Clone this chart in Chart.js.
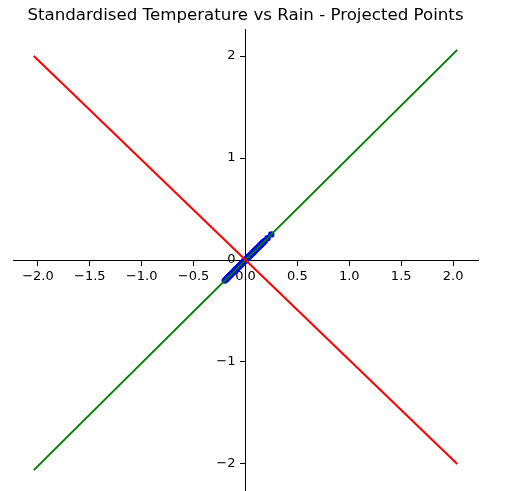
<!DOCTYPE html>
<html>
<head>
<meta charset="utf-8">
<script src="https://cdn.jsdelivr.net/npm/chart.js@4/dist/chart.umd.min.js"></script>
<style>
  html, body { margin: 0; padding: 0; background: #fff; }
  #wrap { width: 506px; height: 491px; }
</style>
</head>
<body>
<div id="wrap"><canvas id="chart"></canvas></div>
<script>
// projected points (standardised temperature, rain)
const projX = [-0.200, -0.188, -0.180, -0.172, -0.165, -0.158, -0.150, -0.143, -0.137, -0.130,
               -0.122, -0.115, -0.108, -0.100, -0.094, -0.087, -0.080, -0.072, -0.065, -0.058,
               -0.050, -0.043, -0.036, -0.029, -0.021, -0.014, -0.007, 0.000, 0.008, 0.015,
               0.022, 0.030, 0.037, 0.044, 0.052, 0.059, 0.066, 0.074, 0.081, 0.089,
               0.096, 0.104, 0.111, 0.118, 0.126, 0.133, 0.141, 0.148, 0.156, 0.163,
               0.171, 0.178, 0.186, 0.212, 0.248];
const projY = [-0.202, -0.190, -0.182, -0.174, -0.167, -0.160, -0.152, -0.144, -0.138, -0.131,
               -0.123, -0.116, -0.109, -0.101, -0.095, -0.088, -0.081, -0.073, -0.066, -0.059,
               -0.051, -0.043, -0.036, -0.029, -0.021, -0.014, -0.007, 0.000, 0.008, 0.015,
               0.022, 0.030, 0.037, 0.044, 0.053, 0.060, 0.067, 0.075, 0.082, 0.090,
               0.097, 0.105, 0.112, 0.119, 0.127, 0.134, 0.142, 0.150, 0.158, 0.165,
               0.173, 0.180, 0.188, 0.214, 0.251];

// principal direction lines (end points)
const greenX = [-2.04, 2.04];
const greenY = [-2.06, 2.06];
const redX = [-2.04, 2.04];
const redY = [2.00, -2.00];

const xTicks = [-2.0, -1.5, -1.0, -0.5, 0.0, 0.5, 1.0, 1.5, 2.0];
const yTicks = [-2, -1, 0, 1, 2];

function pairs(xs, ys) {
    return xs.map((x, i) => ({ x: x, y: ys[i] }));
}

function minus(s) {
    return s.replace('-', '\u2212');
}

// centred axes should not push the plot area in
function noPadding(scale) {
    scale.paddingTop = 0;
    scale.paddingBottom = 0;
    scale.paddingLeft = 0;
    scale.paddingRight = 0;
}

const font = { family: 'DejaVu Sans', size: 13 };

new Chart(document.getElementById('chart'), {
    type: 'scatter',
    data: {
        datasets: [
            {
                label: 'red',
                data: pairs(redX, redY),
                showLine: true,
                borderColor: '#ff0000',
                borderWidth: 2,
                pointRadius: 0,
                order: 0
            },
            {
                label: 'green',
                data: pairs(greenX, greenY),
                showLine: true,
                borderColor: '#008000',
                borderWidth: 2,
                pointRadius: 0,
                order: 1
            },
            {
                label: 'points',
                data: pairs(projX, projY),
                backgroundColor: '#0000ff',
                borderColor: '#0000ff',
                borderWidth: 0,
                pointRadius: 3.2,
                order: 2
            }
        ]
    },
    options: {
        responsive: true,
        maintainAspectRatio: false,
        animation: false,
        layout: { autoPadding: false, padding: { left: 13, right: 28, top: 0, bottom: 0.5 } },
        plugins: {
            legend: { display: false },
            tooltip: { enabled: false },
            title: {
                display: true,
                text: 'Standardised Temperature vs Rain - Projected Points',
                color: '#000',
                font: { family: 'DejaVu Sans', size: 16.67, weight: 'normal' },
                padding: { top: 5.5, bottom: 4 }
            }
        },
        scales: {
            x: {
                type: 'linear',
                position: 'center',
                min: -2.24,
                max: 2.24,
                afterBuildTicks: s => { s.ticks = xTicks.map(v => ({ value: v })); },
                afterFit: noPadding,
                grid: { drawOnChartArea: false, drawTicks: true, tickLength: 5, color: '#000' },
                border: { display: true, color: '#000', width: 1 },
                ticks: {
                    color: '#000',
                    font: font,
                    padding: 3.5,
                    maxRotation: 0,
                    autoSkip: false,
                    callback: v => minus(v.toFixed(1))
                }
            },
            y: {
                type: 'linear',
                position: 'center',
                min: -2.26,
                max: 2.26,
                afterBuildTicks: s => { s.ticks = yTicks.map(v => ({ value: v })); },
                afterFit: noPadding,
                grid: { drawOnChartArea: false, drawTicks: true, tickLength: 5, color: '#000' },
                border: { display: true, color: '#000', width: 1 },
                ticks: {
                    color: '#000',
                    font: font,
                    padding: 5,
                    autoSkip: false,
                    callback: v => minus(String(v))
                }
            }
        }
    }
});
</script>
</body>
</html>
